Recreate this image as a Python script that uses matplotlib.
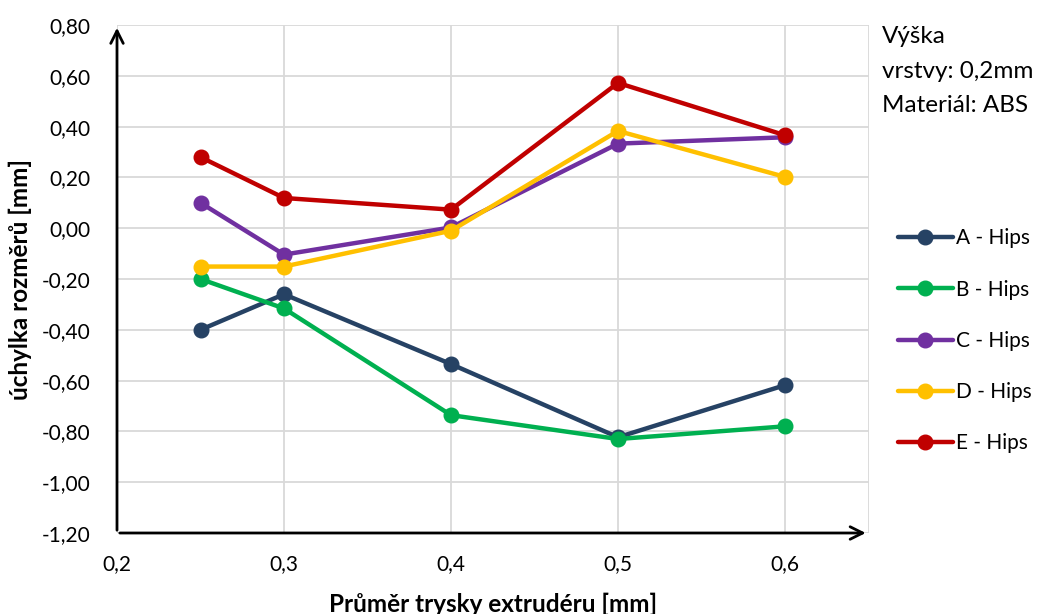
import matplotlib
matplotlib.use("Agg")
import matplotlib.pyplot as plt
from matplotlib.ticker import FuncFormatter, FixedLocator

plt.rcParams['font.family'] = ['Lato', 'DejaVu Sans']

x = [0.25, 0.3, 0.4, 0.5, 0.6]
series_names = ["A - Hips", "B - Hips", "C - Hips", "D - Hips", "E - Hips"]
a_vals = [-0.40, -0.26, -0.535, -0.823, -0.618]
b_vals = [-0.20, -0.316, -0.736, -0.83, -0.78]
c_vals = [0.10, -0.104, 0.003, 0.333, 0.358]
d_vals = [-0.151, -0.151, -0.01, 0.383, 0.202]
e_vals = [0.28, 0.119, 0.073, 0.572, 0.366]
colors = ["#264264", "#00B050", "#7030A0", "#FFC000", "#C00000"]
x_ticks = [0.2, 0.3, 0.4, 0.5, 0.6]
y_ticks = [-1.2, -1.0, -0.8, -0.6, -0.4, -0.2, 0.0, 0.2, 0.4, 0.6, 0.8]

fig = plt.figure(figsize=(10.38, 6.14), dpi=100)
ax = fig.add_axes([117/1038, 1-533/614, 751.5/1038, 508/614])

for vals, name, col in zip([a_vals, b_vals, c_vals, d_vals, e_vals], series_names, colors):
    ax.plot(x, vals, color=col, lw=3.2, marker='o', ms=10.5, label=name,
            solid_capstyle='round', zorder=3)

ax.set_xlim(0.2, 0.65)
ax.set_ylim(-1.2, 0.8)
ax.xaxis.set_major_locator(FixedLocator(x_ticks))
ax.yaxis.set_major_locator(FixedLocator(y_ticks))
ax.xaxis.set_major_formatter(FuncFormatter(lambda v, p: f"{v:.1f}".replace('.', ',')))
ax.yaxis.set_major_formatter(FuncFormatter(lambda v, p: f"{v:.2f}".replace('.', ',').replace('-0,00', '0,00')))
ax.grid(True, color='#D9D9D9', lw=1.3, zorder=0)
ax.axvline(0.65, color='#D9D9D9', lw=1.3, zorder=0)
for s in ax.spines.values():
    s.set_visible(False)
ax.tick_params(length=0, labelsize=15, colors='black')
ax.tick_params(axis='x', pad=15)
ax.tick_params(axis='y', pad=19)

# arrow axes
ax.annotate('', xy=(0.2, 0.8), xytext=(0.2, -1.2),
            arrowprops=dict(arrowstyle='->,head_length=0.9,head_width=0.45', lw=2, color='black'),
            annotation_clip=False, zorder=4)
ax.annotate('', xy=(0.65, -1.2), xytext=(0.2, -1.2),
            arrowprops=dict(arrowstyle='->,head_length=0.9,head_width=0.45', lw=2, color='black'),
            annotation_clip=False, zorder=4)

ax.set_xlabel("Průměr trysky extrudéru [mm]", fontsize=17.5, fontweight='bold')
ax.set_ylabel("úchylka rozměrů [mm]", fontsize=17.5, fontweight='bold')
ax.xaxis.label.set_va('center')
ax.yaxis.label.set_va('center')
ax.xaxis.set_label_coords(0.5, -(604-533)/508)
ax.yaxis.set_label_coords(-(117-20)/751.5, 0.5)

fig.text(882/1038, 1-26/614, "Výška\nvrstvy: 0,2mm\nMateriál: ABS", fontsize=17.5,
         va='top', ha='left', linespacing=1.8)

leg = fig.legend(loc='upper left', bbox_to_anchor=(890/1038, 1-220/614), frameon=False,
                 fontsize=15, labelspacing=1.5, handlelength=2.6, handletextpad=0.15,
                 borderaxespad=0)

fig.savefig("out.png", dpi=100)
